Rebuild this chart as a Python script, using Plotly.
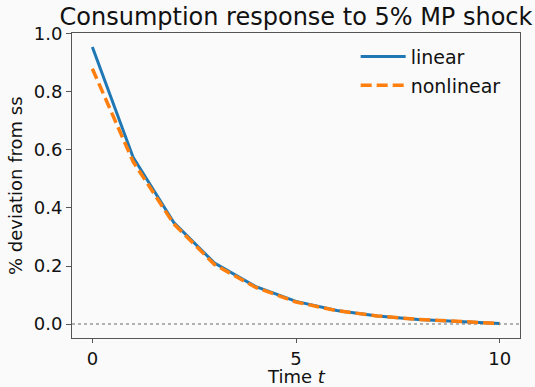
import plotly.graph_objects as go

t = list(range(11))
linear = [0.955, 0.575, 0.350, 0.210, 0.130, 0.078, 0.047, 0.028, 0.016, 0.008, 0.002]
nonlinear = [0.880, 0.560, 0.345, 0.205, 0.127, 0.076, 0.046, 0.028, 0.016, 0.008, 0.002]
steady_state = 0.0

x_ticks = [0, 5, 10]
y_ticks = [0.0, 0.2, 0.4, 0.6, 0.8, 1.0]

FONT = "DejaVu Sans"
BG = "#fafafa"
SPINE = "#555555"
TXT = "#111111"

fig = go.Figure()
fig.add_trace(go.Scatter(x=t, y=linear, mode="lines", name="linear", legendgroup="a",
                         line=dict(color="#1f77b4", width=3)))
fig.add_trace(go.Scatter(x=t, y=nonlinear, mode="lines", name="nonlinear", legendgroup="b",
                         line=dict(color="#ff7f0e", width=3.5, dash="11px,5px")))
fig.add_hline(y=steady_state, line=dict(color="#999999", width=1.5, dash="dot"), layer="below")

axis_common = dict(showgrid=False, zeroline=False, showline=True, linecolor=SPINE,
                   linewidth=1, mirror=True, ticks="outside",
                   tickcolor=SPINE, tickwidth=1, automargin=False,
                   tickfont=dict(family=FONT, size=18, color=TXT))

fig.update_layout(
    width=535, height=387,
    paper_bgcolor=BG, plot_bgcolor=BG,
    margin=dict(l=72, r=15, t=33, b=49),
    font=dict(family=FONT, color=TXT),
    title=dict(text="Consumption response to 5% MP shock", x=0.5, xref="paper",
               y=1 - 17 / 387, yref="container", yanchor="middle", xanchor="center",
               font=dict(family=FONT, size=24, color=TXT)),
    xaxis=dict(range=[-0.5, 10.5], tickvals=x_ticks, ticklen=4, **axis_common),
    yaxis=dict(range=[-0.048, 1.003], tickvals=y_ticks, tickformat=".1f", ticklen=5,
               **axis_common),
    legend=dict(x=0.968, y=0.985, xanchor="right", yanchor="top",
                bgcolor="rgba(0,0,0,0)", borderwidth=0,
                font=dict(family=FONT, size=19, color=TXT),
                tracegroupgap=1, itemwidth=45),
    showlegend=True,
    annotations=[
        dict(text="Time <i>t</i>", xref="paper", yref="paper", x=0.5, y=-38 / 305,
             xanchor="center", yanchor="middle", showarrow=False,
             font=dict(family=FONT, size=18, color=TXT)),
        dict(text="% deviation from ss", xref="paper", yref="paper", x=-56.5 / 448,
             y=0.5, xanchor="center", yanchor="middle", textangle=-90, showarrow=False,
             font=dict(family=FONT, size=18, color=TXT)),
    ],
)

fig.write_html("out.html", post_script="document.body.style.margin='0';",
               config={"displayModeBar": False})
